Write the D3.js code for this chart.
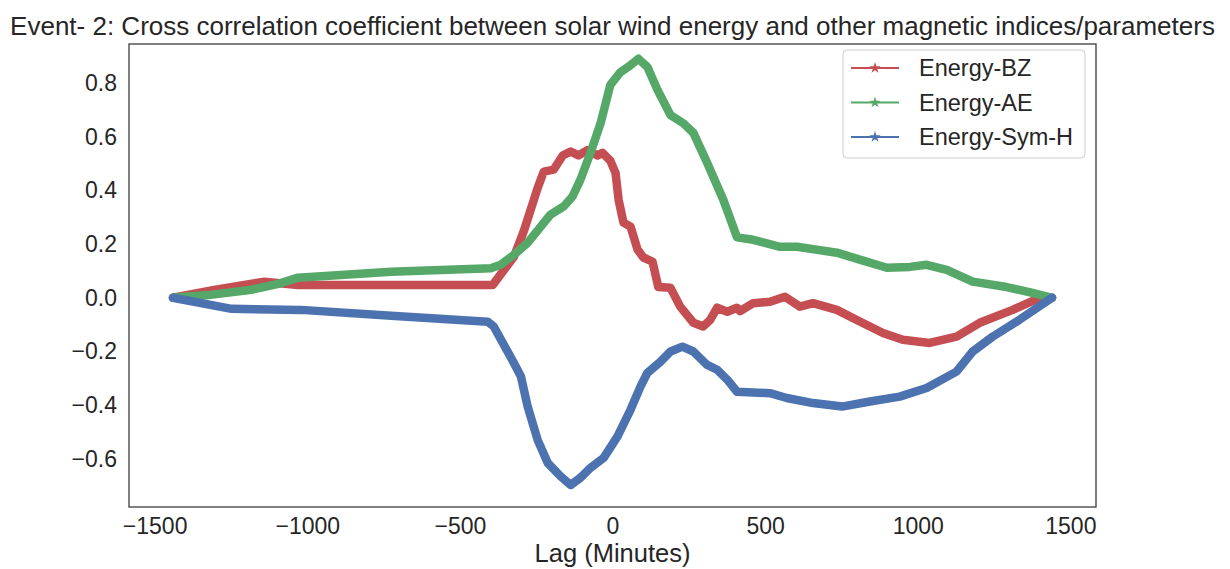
<!DOCTYPE html>
<html>
<head>
<meta charset="utf-8">
<script src="https://d3js.org/d3.v7.min.js"></script>
<style>
  body { margin: 0; background: #fff; }
  text { font-family: "Liberation Sans", Arial, sans-serif; fill: #262626; }
</style>
</head>
<body>
<div class="chart_area"></div>
<script>
// lags (minutes) and correlation values
var bzLag = [-1440, -1300, -1140, -1030, -800, -392, -323, -290, -245, -225, -193, -163, -137, -111, -82, -49, -33, -7, 10, 20, 36, 59, 82, 101, 131, 150, 190, 222, 265, 297, 320, 343, 376, 408, 418, 461, 516, 565, 614, 657, 735, 810, 886, 951, 1039, 1127, 1203, 1311, 1399, 1440];
var bzVal = [0, 0.03, 0.06, 0.048, 0.048, 0.048, 0.153, 0.25, 0.41, 0.47, 0.477, 0.53, 0.545, 0.53, 0.55, 0.53, 0.54, 0.51, 0.465, 0.365, 0.28, 0.265, 0.18, 0.15, 0.135, 0.04, 0.037, -0.033, -0.093, -0.107, -0.082, -0.037, -0.052, -0.037, -0.05, -0.02, -0.015, 0.004, -0.033, -0.02, -0.045, -0.088, -0.131, -0.156, -0.168, -0.145, -0.093, -0.045, 0, 0];

var aeLag = [-1440, -1324, -1183, -1095, -1030, -725, -399, -366, -323, -278, -235, -203, -160, -131, -105, -72, -39, -7, 26, 52, 85, 114, 147, 190, 232, 265, 310, 363, 408, 461, 549, 604, 735, 810, 899, 974, 1029, 1095, 1180, 1291, 1376, 1440];
var aeVal = [0, 0.01, 0.03, 0.052, 0.075, 0.097, 0.11, 0.123, 0.16, 0.205, 0.265, 0.31, 0.34, 0.377, 0.44, 0.54, 0.65, 0.793, 0.84, 0.86, 0.89, 0.86, 0.775, 0.68, 0.65, 0.614, 0.503, 0.365, 0.225, 0.216, 0.19, 0.19, 0.168, 0.142, 0.112, 0.115, 0.123, 0.104, 0.06, 0.04, 0.018, 0];

var symLag = [-1440, -1248, -1020, -725, -409, -389, -323, -300, -278, -245, -212, -170, -137, -105, -72, -29, 16, 59, 92, 114, 157, 190, 229, 265, 310, 343, 376, 408, 516, 571, 657, 752, 843, 941, 1029, 1127, 1180, 1245, 1333, 1440];
var symVal = [0, -0.041, -0.045, -0.067, -0.089, -0.107, -0.243, -0.293, -0.405, -0.53, -0.615, -0.665, -0.697, -0.67, -0.633, -0.596, -0.517, -0.417, -0.33, -0.28, -0.238, -0.2, -0.182, -0.2, -0.25, -0.268, -0.305, -0.35, -0.355, -0.373, -0.392, -0.405, -0.386, -0.368, -0.336, -0.275, -0.2, -0.145, -0.082, 0];

var seriesNames = ["Energy-BZ", "Energy-AE", "Energy-Sym-H"];
var seriesColors = ["#c44e52", "#55a868", "#4c72b0"];
var xTicks = [-1500, -1000, -500, 0, 500, 1000, 1500];
var yTicks = [-0.6, -0.4, -0.2, 0.0, 0.2, 0.4, 0.6, 0.8];

var titleText = "Event- 2: Cross correlation coefficient between solar wind energy and other magnetic indices/parameters";
var xLabel = "Lag (Minutes)";

var width = 1230, height = 569;
var plot = { left: 129, right: 1096, top: 44, bottom: 507 };

var svg = d3.select(".chart_area")
    .append("svg")
    .attr("width", width)
    .attr("height", height);

svg.append("rect")
    .attr("width", width)
    .attr("height", height)
    .attr("fill", "#fff");

var x = d3.scaleLinear()
    .domain([-1584, 1584])
    .range([plot.left, plot.right]);

var y = d3.scaleLinear()
    .domain([-0.779, 0.945])
    .range([plot.bottom, plot.top]);

// title
svg.append("text")
    .attr("x", (plot.left + plot.right) / 2)
    .attr("y", 35)
    .attr("text-anchor", "middle")
    .style("font-size", "26px")
    .text(titleText);

// axes, no tick marks (seaborn white style)
var xAxis = svg.append("g")
    .attr("transform", "translate(0," + plot.bottom + ")")
    .call(d3.axisBottom(x).tickValues(xTicks).tickSize(0).tickPadding(11)
        .tickFormat(function(d){ return d < 0 ? "\u2212" + Math.abs(d) : d; }));

xAxis.select(".domain").remove();
xAxis.selectAll("text")
    .style("font-size", "23px")
    .style("fill", "#262626");

var yAxis = svg.append("g")
    .attr("transform", "translate(" + plot.left + ",0)")
    .call(d3.axisLeft(y).tickValues(yTicks).tickSize(0).tickPadding(12)
        .tickFormat(function(d){
            var s = Math.abs(d).toFixed(1);
            return d < 0 ? "\u2212" + s : s;
        }));

yAxis.select(".domain").remove();
yAxis.selectAll("text")
    .style("font-size", "23px")
    .style("fill", "#262626");

svg.append("text")
    .attr("x", (plot.left + plot.right) / 2)
    .attr("y", 562)
    .attr("text-anchor", "middle")
    .style("font-size", "25.5px")
    .text(xLabel);

// lines
var line = d3.line()
    .x(function(d){ return x(d[0]); })
    .y(function(d){ return y(d[1]); });

var allSeries = [d3.zip(bzLag, bzVal), d3.zip(aeLag, aeVal), d3.zip(symLag, symVal)];

svg.selectAll(".series")
    .data(allSeries)
    .enter()
    .append("path")
    .attr("class", "series")
    .attr("d", line)
    .attr("fill", "none")
    .attr("stroke", function(d, i){ return seriesColors[i]; })
    .attr("stroke-width", 8.5)
    .attr("stroke-linejoin", "round")
    .attr("stroke-linecap", "round");

// frame
svg.append("rect")
    .attr("x", plot.left)
    .attr("y", plot.top)
    .attr("width", plot.right - plot.left)
    .attr("height", plot.bottom - plot.top)
    .attr("fill", "none")
    .attr("stroke", "#333")
    .attr("stroke-width", 1.25);

// legend
var legend = svg.append("g")
    .attr("transform", "translate(843,50)");

legend.append("rect")
    .attr("width", 242)
    .attr("height", 108)
    .attr("rx", 4)
    .attr("fill", "#fff")
    .attr("fill-opacity", 0.8)
    .attr("stroke", "#cccccc");

var star = d3.symbol().type(d3.symbolStar).size(40);

var items = legend.selectAll(".item")
    .data(seriesNames)
    .enter()
    .append("g")
    .attr("class", "item")
    .attr("transform", function(d, i){ return "translate(0," + (18 + i * 34.5) + ")"; });

items.append("line")
    .attr("x1", 8)
    .attr("x2", 56)
    .attr("stroke", function(d, i){ return seriesColors[i]; })
    .attr("stroke-width", 1.8);

items.append("path")
    .attr("d", star)
    .attr("transform", "translate(32,0)")
    .attr("fill", function(d, i){ return seriesColors[i]; });

items.append("text")
    .attr("x", 76)
    .attr("dy", "0.35em")
    .style("font-size", "23.5px")
    .text(function(d){ return d; });
</script>
</body>
</html>
